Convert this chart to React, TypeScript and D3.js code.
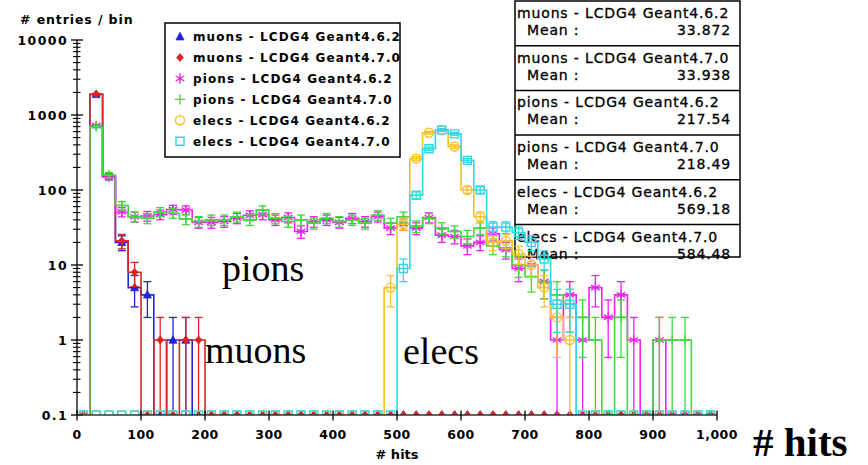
import React from 'react';
import * as d3 from 'd3';

// Histogram binning: 50 bins of 20 hits each, from 0 to 1000 hits
const binEdges = d3.range(0, 1001, 20);

// Entries per bin for each sample
const muons462 = [0, 1880, 150, 20, 5, 4, 0, 1, 1, 0, 0, 0, 0, 0, 0, 0, 0, 0, 0, 0, 0, 0, 0, 0, 0, 0, 0, 0, 0, 0, 0, 0, 0, 0, 0, 0, 0, 0, 0, 0, 0, 0, 0, 0, 0, 0, 0, 0, 0, 0];
const muons470 = [0, 1900, 155, 21, 8, 0, 1, 0, 1, 1, 0, 0, 0, 0, 0, 0, 0, 0, 0, 0, 0, 0, 0, 0, 0, 0, 0, 0, 0, 0, 0, 0, 0, 0, 0, 0, 0, 0, 0, 0, 0, 0, 0, 0, 0, 0, 0, 0, 0, 0];
const pions462 = [0, 720, 150, 51, 44, 45, 47, 55, 54, 37, 37, 38, 42, 46, 47, 40, 43, 28, 38, 40, 37, 42, 38, 44, 31, 35, 31, 43, 25, 24, 18, 20, 26, 16, 9, 10, 6, 1, 4, 1, 5, 2, 4, 1, 0, 1, 0, 0, 0, 0];
const pions470 = [0, 700, 158, 62, 44, 42, 51, 49, 41, 38, 40, 40, 44, 40, 54, 42, 38, 40, 36, 42, 38, 40, 36, 46, 36, 44, 33, 42, 31, 28, 24, 31, 18, 17, 10, 7, 6, 4, 3, 2, 1, 0, 2, 0, 0, 1, 1, 1, 0, 0];
const elecs462 = [0, 0, 0, 0, 0, 0, 0, 0, 0, 0, 0, 0, 0, 0, 0, 0, 0, 0, 0, 0, 0, 0, 0, 0, 5, 35, 262, 580, 625, 380, 100, 44, 20, 21, 14, 10, 5, 2, 1, 0, 0, 0, 0, 0, 0, 0, 0, 0, 0, 0];
const elecs470 = [0, 0, 0, 0, 0, 0, 0, 0, 0, 0, 0, 0, 0, 0, 0, 0, 0, 0, 0, 0, 0, 0, 0, 0, 0, 9, 85, 355, 634, 561, 248, 100, 32, 32, 27, 20, 12, 3, 3, 0, 0, 0, 0, 0, 0, 0, 0, 0, 0, 0];

const seriesNames = [
  'muons - LCDG4 Geant4.6.2',
  'muons - LCDG4 Geant4.7.0',
  'pions - LCDG4 Geant4.6.2',
  'pions - LCDG4 Geant4.7.0',
  'elecs - LCDG4 Geant4.6.2',
  'elecs - LCDG4 Geant4.7.0',
];
const seriesMeans = ['33.872', '33.938', '217.54', '218.49', '569.18', '584.48'];

const xTicks = [0, 100, 200, 300, 400, 500, 600, 700, 800, 900, 1000];
const xTickLabels = ['0', '100', '200', '300', '400', '500', '600', '700', '800', '900', '1,000'];
const yTicks = [0.1, 1, 10, 100, 1000, 10000];
const yTickLabels = ['0.1', '1', '10', '100', '1000', '10000'];

type Marker = 'triangle' | 'diamond' | 'star' | 'plus' | 'circle' | 'square';

const series = [
  { name: seriesNames[0], values: muons462, color: '#2323dc', marker: 'triangle' as Marker },
  { name: seriesNames[1], values: muons470, color: '#dc2424', marker: 'diamond' as Marker },
  { name: seriesNames[2], values: pions462, color: '#ee22ee', marker: 'star' as Marker },
  { name: seriesNames[3], values: pions470, color: '#40d840', marker: 'plus' as Marker },
  { name: seriesNames[4], values: elecs462, color: '#f6c12e', marker: 'circle' as Marker },
  { name: seriesNames[5], values: elecs470, color: '#34d6e6', marker: 'square' as Marker },
];

const W = 868;
const H = 465;
const PLOT = { left: 77, right: 717, top: 40, bottom: 415 };
const FLOOR = 0.09; // empty bins are drawn just below the lower edge and clipped

const SANS = '"DejaVu Sans", Verdana, sans-serif';
const SERIF = '"Liberation Serif", "Times New Roman", serif';

function markerPath(kind: Marker, s: number): string {
  const h = s / 2;
  switch (kind) {
    case 'triangle':
      return `M0,${-h * 1.1}L${h},${h * 0.8}L${-h},${h * 0.8}Z`;
    case 'diamond':
      return `M0,${-h}L${h * 0.85},0L0,${h}L${-h * 0.85},0Z`;
    case 'star': {
      const a = h * Math.cos(Math.PI / 6);
      const b = h * Math.sin(Math.PI / 6);
      return `M0,${-h}V${h}M${-a},${-b}L${a},${b}M${-a},${b}L${a},${-b}`;
    }
    case 'plus':
      return `M${-h},0H${h}M0,${-h}V${h}`;
    case 'circle':
      return `M${h},0A${h},${h} 0 1,1 ${-h},0A${h},${h} 0 1,1 ${h},0Z`;
    case 'square':
      return `M${-h},${-h}H${h}V${h}H${-h}Z`;
  }
}

const markerSize: Record<Marker, number> = {
  triangle: 8,
  diamond: 8,
  star: 10,
  plus: 10,
  circle: 9,
  square: 8,
};

function MarkerGlyph({ kind, color, x, y }: { kind: Marker; color: string; x: number; y: number }) {
  const filled = kind === 'triangle' || kind === 'diamond';
  return (
    <path
      d={markerPath(kind, markerSize[kind])}
      transform={`translate(${x},${y})`}
      fill={filled ? color : 'none'}
      stroke={color}
      strokeWidth={filled ? 0.8 : 1.4}
    />
  );
}

export default function App() {
  const x = d3.scaleLinear().domain([0, 1000]).range([PLOT.left, PLOT.right]);
  const y = d3.scaleLog().domain([0.1, 10000]).range([PLOT.bottom, PLOT.top]);
  const yOf = (v: number) => (v > 0 ? y(v) : y(FLOOR));

  const minorTicks = y.ticks().filter((t) => Math.abs(Math.log10(t) - Math.round(Math.log10(t))) > 1e-6);

  const stepPath = (values: number[]) => {
    let d = `M${x(binEdges[0])},${yOf(values[0])}`;
    values.forEach((v, i) => {
      if (i > 0) d += `V${yOf(v)}`;
      d += `H${x(binEdges[i + 1])}`;
    });
    d += `V${y(FLOOR)}`;
    return d;
  };

  const statTop = 1;
  const statRow = 44.7;
  const statBottom = 257;
  const statLeft = 515;
  const statRight = 740;

  const legendTop = 23;
  const legendRow = 20.9;

  const statText = {
    fontFamily: SANS,
    fontSize: 14,
    letterSpacing: 0.85,
    fill: '#000',
    stroke: '#000',
    strokeWidth: 0.3,
  };

  return (
    <svg
      width={W}
      height={H}
      viewBox={`0 0 ${W} ${H}`}
      style={{ position: 'absolute', left: 0, top: 0, background: '#fff' }}
    >
      <defs>
        <clipPath id="plot-area">
          <rect x={PLOT.left} y={PLOT.top - 10} width={PLOT.right - PLOT.left} height={PLOT.bottom - PLOT.top + 10} />
        </clipPath>
      </defs>
      <rect x={0} y={0} width={W} height={H} fill="#fff" />

      {/* legend */}
      <g>
        <rect x={165} y={legendTop} width={235} height={134} fill="#fff" stroke="#000" strokeWidth={1.5} />
        {series.map((s, i) => {
          const cy = legendTop + 13.7 + i * legendRow;
          return (
            <g key={s.name}>
              <MarkerGlyph kind={s.marker} color={s.color} x={180} y={cy} />
              <text
                x={193}
                y={cy + 4.5}
                fontFamily={SANS}
                fontWeight="bold"
                fontSize={12}
                letterSpacing={1.1}
                fill="#000"
              >
                {s.name}
              </text>
            </g>
          );
        })}
      </g>

      {/* statistics boxes */}
      <g>
        <rect x={statLeft} y={statTop} width={statRight - statLeft} height={statBottom - statTop} fill="#fff" stroke="#000" strokeWidth={1.5} />
        {series.map((s, i) => {
          const top = statTop + i * statRow;
          return (
            <g key={s.name}>
              {i > 0 && <line x1={statLeft} x2={statRight} y1={top} y2={top} stroke="#000" strokeWidth={1.5} />}
              <text x={statLeft + 2} y={top + 17} {...statText}>
                {s.name}
              </text>
              <text x={statLeft + 12} y={top + 34} {...statText}>
                Mean :
              </text>
              <text x={statRight - 9} y={top + 34} textAnchor="end" {...statText}>
                {seriesMeans[i]}
              </text>
            </g>
          );
        })}
      </g>

      {/* histograms */}
      <g clipPath="url(#plot-area)">
        {series.map((s) => (
          <g key={s.name}>
            <path d={stepPath(s.values)} fill="none" stroke={s.color} strokeWidth={1.6} />
            {s.values.map((v, i) => {
              if (v <= 0) return null;
              const cx = x((binEdges[i] + binEdges[i + 1]) / 2);
              const err = Math.sqrt(v);
              const yHi = y(v + err);
              const yLo = v - err > 0 ? y(v - err) : y(FLOOR);
              return (
                <g key={i} stroke={s.color} strokeWidth={1.3}>
                  <line x1={cx} x2={cx} y1={yHi} y2={yLo} />
                  <line x1={cx - 4} x2={cx + 4} y1={yHi} y2={yHi} />
                  {v - err > 0 && <line x1={cx - 4} x2={cx + 4} y1={yLo} y2={yLo} />}
                </g>
              );
            })}
            {s.values.map((v, i) => (
              <MarkerGlyph
                key={`m${i}`}
                kind={s.marker}
                color={s.color}
                x={x((binEdges[i] + binEdges[i + 1]) / 2)}
                y={v > 0 ? y(v) : y(0.1)}
              />
            ))}
          </g>
        ))}
      </g>

      {/* y axis */}
      <g>
        <line x1={PLOT.left} x2={PLOT.left} y1={PLOT.top} y2={PLOT.bottom} stroke="#000" strokeWidth={1.3} />
        {minorTicks.map((t) => (
          <line key={`mt${t}`} x1={PLOT.left - 4} x2={PLOT.left + 3.5} y1={y(t)} y2={y(t)} stroke="#000" strokeWidth={1.1} />
        ))}
        {yTicks.map((t, i) => (
          <g key={`yt${t}`}>
            <line x1={PLOT.left - 6} x2={PLOT.left + 6} y1={y(t)} y2={y(t)} stroke="#000" strokeWidth={1.3} />
            <text
              x={68}
              y={y(t) + 4.5}
              textAnchor="end"
              fontFamily={SANS}
              fontWeight="bold"
              fontSize={12.5}
              letterSpacing={1.4}
              fill="#000"
            >
              {yTickLabels[i]}
            </text>
          </g>
        ))}
        <text x={20} y={24} fontFamily={SANS} fontWeight="bold" fontSize={12.5} letterSpacing={0.9} fill="#000">
          # entries / bin
        </text>
      </g>

      {/* x axis */}
      <g>
        <line x1={PLOT.left} x2={PLOT.right} y1={PLOT.bottom} y2={PLOT.bottom} stroke="#333" strokeWidth={1.3} />
        {xTicks.map((t, i) => (
          <g key={`xt${t}`}>
            <line x1={x(t)} x2={x(t)} y1={PLOT.bottom - 4.5} y2={PLOT.bottom + 5.5} stroke="#000" strokeWidth={1.3} />
            <text
              x={x(t)}
              y={439}
              textAnchor="middle"
              fontFamily={SANS}
              fontWeight="bold"
              fontSize={12.5}
              letterSpacing={0.5}
              fill="#000"
            >
              {xTickLabels[i]}
            </text>
          </g>
        ))}
        <text x={(PLOT.left + PLOT.right) / 2} y={459} textAnchor="middle" fontFamily={SANS} fontWeight="bold" fontSize={13} fill="#000">
          # hits
        </text>
      </g>

      {/* annotations */}
      <g fontFamily={SERIF} fill="#000">
        <text x={222} y={281} fontSize={38}>pions</text>
        <text x={205} y={363} fontSize={38}>muons</text>
        <text x={403} y={364} fontSize={38}>elecs</text>
        <text x={753} y={456} fontSize={41} fontWeight="bold"># hits</text>
      </g>
    </svg>
  );
}
